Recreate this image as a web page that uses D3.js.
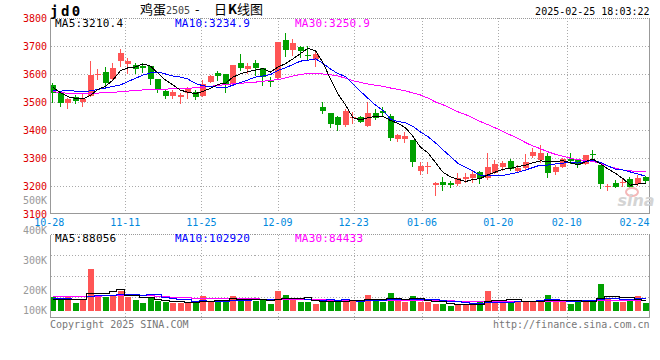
<!DOCTYPE html>
<html lang="zh">
<head>
<meta charset="UTF-8">
<title>jd0 鸡蛋2505 日K线图</title>
<script src="https://cdnjs.cloudflare.com/ajax/libs/d3/7.8.5/d3.min.js"></script>
<style>
  body { margin: 0; background: #fff; }
  svg { display: block; font-family: "DejaVu Sans Mono", "Liberation Mono", monospace; }
  .grid { stroke: #aaa; stroke-width: 1; stroke-dasharray: 1,2; shape-rendering: crispEdges; }
  .frame { stroke: #999; fill: none; shape-rendering: crispEdges; }
  .ma { fill: none; stroke-width: 1; shape-rendering: crispEdges; }
</style>
</head>
<body>
<svg id="chart" width="660" height="360"></svg>
<script>
// trading days, 2024-10-28 .. 2025-02-25
const dates = [
  "10-28","10-29","10-30","10-31","11-01","11-04","11-05","11-06","11-07","11-08",
  "11-11","11-12","11-13","11-14","11-15","11-18","11-19","11-20","11-21","11-22",
  "11-25","11-26","11-27","11-28","11-29","12-02","12-03","12-04","12-05","12-06",
  "12-09","12-10","12-11","12-12","12-13","12-16","12-17","12-18","12-19","12-20",
  "12-23","12-24","12-25","12-26","12-27","12-30","12-31","01-02","01-03","01-06",
  "01-07","01-08","01-09","01-10","01-13","01-14","01-15","01-16","01-17","01-20",
  "01-21","01-22","01-23","01-24","01-27","02-05","02-06","02-07","02-10","02-11",
  "02-12","02-13","02-14","02-17","02-18","02-19","02-20","02-21","02-24","02-25"
];
const opens = [
  3561,3531,3495,3519,3499,3522,3597,3606,3582,3646,
  3636,3632,3630,3629,3581,3539,3522,3519,3531,3537,
  3522,3573,3605,3600,3564,3640,3618,3640,3620,3579,
  3587,3721,3686,3698,3669,3652,3481,3460,3445,3418,
  3442,3445,3415,3460,3469,3450,3368,3368,3364,3255,
  3269,3204,3215,3209,3206,3225,3227,3251,3227,3248,
  3267,3290,3255,3263,3308,3293,3308,3249,3269,3296,
  3293,3279,3314,3275,3197,3212,3211,3224,3207,3231
];
const highs = [
  3569,3533,3514,3524,3530,3646,3618,3626,3638,3689,
  3658,3640,3640,3630,3583,3545,3542,3531,3554,3543,
  3579,3598,3611,3601,3633,3671,3640,3650,3621,3590,
  3716,3745,3724,3700,3700,3680,3501,3461,3450,3475,
  3463,3450,3501,3475,3481,3456,3386,3394,3365,3287,
  3287,3213,3233,3219,3245,3248,3252,3255,3319,3293,
  3288,3298,3276,3314,3335,3346,3317,3274,3300,3317,
  3294,3312,3329,3276,3206,3220,3227,3231,3239,3234
];
const lows = [
  3501,3486,3480,3495,3485,3520,3582,3557,3579,3630,
  3605,3604,3608,3564,3537,3513,3514,3498,3515,3509,
  3520,3572,3580,3537,3562,3614,3605,3596,3561,3558,
  3585,3665,3668,3660,3652,3629,3460,3412,3400,3414,
  3424,3428,3414,3438,3450,3364,3361,3358,3271,3243,
  3248,3168,3186,3195,3205,3215,3215,3210,3226,3245,
  3257,3256,3253,3262,3305,3287,3231,3242,3268,3281,
  3268,3278,3299,3192,3186,3197,3200,3196,3204,3212
];
const closes = [
  3533,3496,3511,3505,3511,3596,3601,3567,3620,3674,
  3646,3619,3621,3581,3546,3522,3537,3524,3546,3519,
  3564,3593,3594,3564,3632,3622,3629,3622,3590,3570,
  3715,3686,3710,3682,3667,3671,3468,3421,3418,3468,
  3445,3430,3460,3444,3462,3373,3382,3379,3287,3271,
  3272,3212,3205,3205,3227,3233,3243,3228,3267,3279,
  3281,3260,3263,3287,3322,3317,3248,3267,3295,3288,
  3276,3311,3312,3206,3199,3198,3214,3198,3227,3219
];
const ma5 = [
  3552,3533,3519,3513,3511,3524,3545,3556,3579,3612,
  3622,3625,3636,3628,3603,3578,3561,3542,3535,3530,
  3538,3549,3563,3567,3589,3601,3608,3614,3619,3607,
  3625,3637,3654,3673,3692,3683,3640,3582,3529,3489,
  3444,3436,3444,3449,3448,3434,3424,3408,3377,3338,
  3318,3284,3249,3233,3224,3216,3223,3227,3240,3250,
  3260,3263,3270,3274,3283,3290,3287,3288,3290,3283,
  3275,3287,3296,3279,3261,3245,3226,3203,3207,3210.4
];
const ma10 = [
  3540,3539,3541,3539,3537,3540,3545,3550,3556,3561,
  3573,3585,3596,3604,3607,3600,3593,3589,3582,3566,
  3558,3555,3553,3551,3560,3570,3579,3589,3593,3598,
  3613,3622,3634,3646,3649,3654,3638,3618,3601,3591,
  3564,3538,3513,3489,3469,3439,3430,3426,3413,3393,
  3376,3354,3329,3305,3281,3267,3253,3238,3236,3237,
  3238,3243,3249,3257,3266,3275,3275,3279,3282,3283,
  3282,3287,3292,3284,3272,3260,3257,3250,3243,3234.9
];
const ma30 = [
  3537,3534,3531,3531,3531,3531,3532,3533,3534,3537,
  3539,3541,3543,3544,3545,3546,3547,3548,3549,3551,
  3553,3556,3559,3562,3565,3567,3569,3571,3574,3577,
  3580,3586,3593,3598,3602,3602,3600,3597,3593,3585,
  3576,3570,3564,3560,3556,3550,3545,3540,3532,3525,
  3514,3500,3490,3478,3465,3455,3443,3430,3419,3407,
  3395,3382,3370,3355,3343,3333,3322,3313,3306,3299,
  3294,3291,3288,3281,3271,3264,3257,3254,3252,3250.9
];
// volume, thousands of lots
const volumes = [
  120,99,120,67,91,352,120,120,131,165,
  117,93,69,112,85,77,64,64,64,72,
  125,85,72,93,125,109,80,80,93,53,
  165,133,91,77,72,59,72,93,72,93,
  93,72,133,85,72,152,85,72,125,72,
  72,53,53,37,53,53,53,72,165,85,
  72,77,72,85,77,72,133,77,93,59,
  72,93,85,224,112,72,72,85,125,64
];
const volMa5 = [
  98,97,96,94,99,146,150,150,163,178,
  131,125,115,111,95,87,81,80,71,68,
  78,82,84,89,100,97,96,97,97,83,
  94,105,107,104,108,86,74,75,74,78,
  85,85,93,95,91,103,105,93,101,101,
  85,79,75,57,54,50,50,54,79,86,
  89,94,94,78,77,77,88,89,90,87,
  87,79,80,107,117,117,113,113,93,88.056
];
const volMa10 = [
  105,103,100,98,98,122,125,128,132,139,
  138,138,133,137,136,109,103,98,91,82,
  83,82,82,80,84,87,89,91,93,92,
  96,100,102,101,95,90,90,91,89,93,
  86,79,84,84,84,94,95,93,98,96,
  94,92,84,79,77,68,64,64,68,70,
  70,72,74,79,81,83,91,92,84,82,
  82,83,85,99,102,102,96,97,100,102.92
];
const volMa30 = [
  120,120,120,120,120,122,124,125,126,128,
  128,127,126,125,124,118,114,110,108,106,
  106,105,104,104,103,102,101,100,99,98,
  97,96,95,94,93,92,91,90,89,89,
  88,88,88,87,87,87,87,86,86,86,
  85,85,84,83,82,81,80,80,80,80,
  80,80,80,80,81,81,82,82,82,82,
  82,82,83,84,84,84,84,84,84,84.433
];
const priceTicks = [3800, 3700, 3600, 3500, 3400, 3300, 3200, 3100];
const volTicks = [500, 400, 300, 200, 100];
const dateTicks = ["10-28", "11-11", "11-25", "12-09", "12-23", "01-06", "01-20", "02-10", "02-24"];
const legendMain = [["MA5:3210.4", "#000"], ["MA10:3234.9", "#0000ff"], ["MA30:3250.9", "#ff00ff"]];
const legendVol = [["MA5:88056", "#000"], ["MA10:102920", "#0000ff"], ["MA30:84433", "#ff00ff"]];

const RED = "#ff5555", GREEN = "#00a000";
const svg = d3.select("#chart");
const n = dates.length;
const L = 50.5, R = 649.5, volTop = 234.5, volBottom = 317.5;

const x = d3.scaleLinear().domain([0, n - 1]).range([53, 645.5]);
const gx = d3.scaleLinear().domain([0, n - 1]).range([49.2, 650.4]);   // sina's grid spacing
const y = d3.scaleLinear().domain([3100, 3800]).range([214, 18]);
const yv = d3.scaleLinear().domain([0, 650]).range([310.7, 234.2]);
const yvLabel = d3.scaleLinear().domain([500, 200]).range([200.3, 290]);
const yq = d3.scaleLinear().domain([0, 4]).range([volTop, volBottom]);

const bars = d3.range(n).map(i => ({
  i, o: opens[i], h: highs[i], l: lows[i], c: closes[i], v: volumes[i],
  up: closes[i] >= opens[i]
}));

// grid
const gridIdx = dateTicks.map(d => dates.indexOf(d)).filter(i => gx(i) > L + 5 && gx(i) < R - 10);
svg.append("g").selectAll("line").data(priceTicks.slice(1, -1)).join("line")
  .attr("class", "grid")
  .attr("x1", L).attr("x2", R)
  .attr("y1", d => Math.round(y(d)) + 0.5).attr("y2", d => Math.round(y(d)) + 0.5);
svg.append("g").selectAll("line").data(gridIdx).join("line")
  .attr("class", "grid")
  .attr("x1", d => Math.round(gx(d)) + 0.5).attr("x2", d => Math.round(gx(d)) + 0.5)
  .attr("y1", 18).attr("y2", 214);
svg.append("g").selectAll("line").data([1, 2, 3]).join("line")
  .attr("class", "grid")
  .attr("x1", L).attr("x2", R)
  .attr("y1", d => Math.round(yq(d)) + 0.5).attr("y2", d => Math.round(yq(d)) + 0.5);
svg.append("g").selectAll("line").data(gridIdx).join("line")
  .attr("class", "grid")
  .attr("x1", d => Math.round(gx(d)) + 0.5).attr("x2", d => Math.round(gx(d)) + 0.5)
  .attr("y1", volTop).attr("y2", 322);

// volume bars
svg.append("g").selectAll("rect").data(bars).join("rect")
  .attr("x", d => Math.round(x(d.i)) - 3)
  .attr("width", 6)
  .attr("y", d => Math.round(yv(d.v)))
  .attr("height", d => Math.round(yv(0)) - Math.round(yv(d.v)))
  .attr("fill", d => d.up ? RED : GREEN)
  .attr("shape-rendering", "crispEdges");

// candles
const cg = svg.append("g").attr("shape-rendering", "crispEdges");
cg.selectAll("line").data(bars).join("line")
  .attr("x1", d => Math.round(x(d.i)) - 0.5).attr("x2", d => Math.round(x(d.i)) - 0.5)
  .attr("y1", d => Math.round(y(d.h))).attr("y2", d => Math.round(y(d.l)) + 1)
  .attr("stroke", d => d.up ? RED : GREEN);
cg.selectAll("rect").data(bars).join("rect")
  .attr("x", d => Math.round(x(d.i)) - 3)
  .attr("width", 6)
  .attr("y", d => Math.round(y(Math.max(d.o, d.c))))
  .attr("height", d => Math.max(1, Math.round(y(Math.min(d.o, d.c))) - Math.round(y(Math.max(d.o, d.c)))))
  .attr("fill", d => d.up ? RED : GREEN);

// moving averages
const priceLine = d3.line().x((d, i) => x(i)).y(d => y(d));
[[ma30, "#ff00ff"], [ma10, "#0000ff"], [ma5, "#000"]].forEach(([s, col]) => {
  svg.append("path").attr("class", "ma").attr("d", priceLine(s)).attr("stroke", col);
});
const volLine = d3.line().x((d, i) => x(i)).y(d => yv(d)).curve(d3.curveStep);
[[volMa30, "#ff00ff"], [volMa10, "#0000ff"], [volMa5, "#000"]].forEach(([s, col]) => {
  svg.append("path").attr("class", "ma").attr("d", volLine(s)).attr("stroke", col);
});

// frames
svg.append("line").attr("class", "frame").attr("stroke-dasharray", "1,1")
  .attr("x1", L).attr("x2", R).attr("y1", 18.5).attr("y2", 18.5);
svg.append("path").attr("class", "frame")
  .attr("d", `M${L},18V213.5H${R}V18`);
svg.append("line").attr("class", "frame").attr("stroke-width", 1.5)
  .attr("x1", L).attr("x2", R).attr("y1", 213.5).attr("y2", 213.5);
svg.append("line").attr("class", "frame").attr("stroke-dasharray", "1,1")
  .attr("x1", L).attr("x2", R).attr("y1", volTop).attr("y2", volTop);
svg.append("path").attr("class", "frame")
  .attr("d", `M${L},${volTop}V${volBottom}H${R}V${volTop}`);
svg.append("line").attr("class", "frame").attr("stroke-width", 1.5)
  .attr("x1", L).attr("x2", R).attr("y1", volBottom).attr("y2", volBottom);

// watermark
svg.append("ellipse").attr("cx", 632).attr("cy", 192).attr("rx", 6).attr("ry", 4)
  .attr("fill", "none").attr("stroke", "#f5b8b8").attr("stroke-width", 2);
svg.append("text").attr("x", 636).attr("y", 206).attr("text-anchor", "middle")
  .attr("font-family", "DejaVu Sans, sans-serif").attr("font-style", "italic").attr("font-weight", "bold")
  .attr("font-size", 16).attr("fill", "#d4d4d4").text("sina");

// price axis labels
svg.append("g").selectAll("text").data(priceTicks).join("text")
  .attr("x", 47).attr("y", d => y(d)).attr("dy", "0.35em")
  .attr("text-anchor", "end").attr("font-size", 10).attr("fill", "#dd0000")
  .text(d => d);

// volume axis labels
svg.append("g").selectAll("text").data(volTicks).join("text")
  .attr("x", 47).attr("y", d => Math.min(yvLabel(d), 310.3)).attr("dy", "0.35em")
  .attr("text-anchor", "end").attr("font-size", 10).attr("fill", "#999")
  .text(d => d + "K");

// date labels
svg.append("g").selectAll("text").data(dateTicks).join("text")
  .attr("x", d => Math.min(gx(dates.indexOf(d)), R - 15))
  .attr("y", 226).attr("text-anchor", "middle")
  .attr("font-size", 10).attr("fill", "#0088dd")
  .text(d => d);

// legends
legendMain.forEach(([t, col], k) => {
  svg.append("text").attr("x", 55 + k * 120).attr("y", 27).attr("font-size", 11)
    .attr("letter-spacing", 0.2).attr("fill", col).text(t);
});
legendVol.forEach(([t, col], k) => {
  svg.append("text").attr("x", 55 + k * 120).attr("y", 242).attr("font-size", 11)
    .attr("letter-spacing", 0.2).attr("fill", col).text(t);
});

// header
svg.append("text").attr("x", 50).attr("y", 16).attr("font-size", 14).attr("font-weight", "bold")
  .attr("letter-spacing", 2.5).attr("fill", "#000").text("jd0");
const title = svg.append("text").attr("y", 14).attr("fill", "#000")
  .attr("font-family", "Noto Sans CJK SC, sans-serif").attr("font-size", 13);
title.append("tspan").attr("x", 140).text("鸡蛋");
title.append("tspan").attr("x", 166).attr("font-family", "DejaVu Sans Mono, monospace")
  .attr("font-size", 10).attr("fill", "#444").text("2505");
title.append("tspan").attr("x", 195).text("-");
title.append("tspan").attr("x", 214).text("日");
title.append("tspan").attr("x", 228).attr("font-weight", "bold").text("K");
title.append("tspan").attr("x", 237).text("线图");
svg.append("text").attr("x", R).attr("y", 15).attr("text-anchor", "end")
  .attr("font-size", 10).attr("fill", "#000").text("2025-02-25 18:03:22");

// footer
svg.append("text").attr("x", 50).attr("y", 328).attr("font-size", 10).attr("fill", "#777")
  .text("Copyright 2025 SINA.COM");
svg.append("text").attr("x", R).attr("y", 328).attr("text-anchor", "end")
  .attr("font-size", 10).attr("fill", "#777").text("http://finance.sina.com.cn");
</script>
</body>
</html>
